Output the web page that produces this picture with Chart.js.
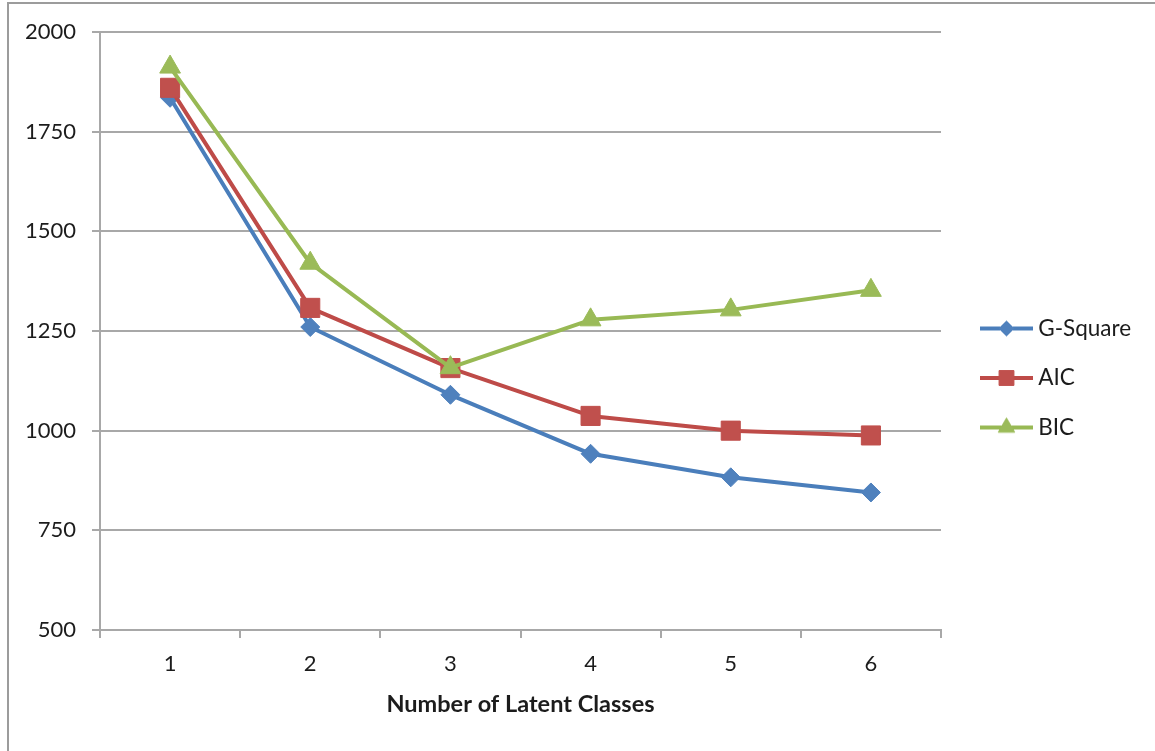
<!DOCTYPE html>
<html>
<head>
<meta charset="utf-8">
<script src="https://cdn.jsdelivr.net/npm/chart.js@4/dist/chart.umd.min.js"></script>
<style>
  html, body { margin: 0; padding: 0; background: #fff; }
  #wrap { position: relative; width: 1155px; height: 751px; overflow: hidden; }
  #chart { position: absolute; left: 0; top: 0; }
  #frame {
    position: absolute; left: 7px; top: 2px; right: -4px; bottom: -4px;
    border-top: 2px solid #9c9c9c; border-left: 2px solid #9c9c9c;
    pointer-events: none;
  }
</style>
</head>
<body>
<div id="wrap">
  <canvas id="chart" width="1155" height="751"></canvas>
  <div id="frame"></div>
</div>
<script>
// Number of latent classes in each fitted model
const classes = ['1', '2', '3', '4', '5', '6'];

// Fit statistics per model
const gSquare = [1835, 1260, 1090, 942, 883, 845];
const aic     = [1860, 1308, 1157, 1037, 1000, 988];
const bic     = [1912, 1420, 1158, 1278, 1303, 1352];

// Value axis range
const yMin = 500;
const yMax = 2000;
const yStep = 250;

const FONT = 'Lato, "Open Sans", sans-serif';
const TEXT = '#1c1c1c';
const GRID = '#a8a8a8';

const series = [
  { label: 'G-Square', data: gSquare, line: '#4a7ebb', fill: '#4f81bd', style: 'rectRot', r: 9.5,  lr: 7.5, order: 3 },
  { label: 'AIC',      data: aic,     line: '#be4b48', fill: '#c0504d', style: 'rect',    r: 13.5, lr: 10.5, order: 2 },
  { label: 'BIC',      data: bic,     line: '#98b954', fill: '#9bbb59', style: 'triangle',r: 12,   lr: 9.5, order: 1 }
];

// Legend glyph: a short line segment with the series marker in its middle
const GLYPH_W = 71, GLYPH_H = 26;
function legendGlyph(s) {
  const c = document.createElement('canvas');
  c.width = GLYPH_W; c.height = GLYPH_H;
  const g = c.getContext('2d');
  const cy = GLYPH_H / 2;
  g.strokeStyle = s.line;
  g.lineWidth = 4;
  g.beginPath();
  g.moveTo(18, cy);
  g.lineTo(GLYPH_W, cy);
  g.stroke();
  g.fillStyle = s.fill;
  g.strokeStyle = s.fill;
  g.lineWidth = 1;
  Chart.helpers.drawPoint(g, { pointStyle: s.style, radius: s.lr, borderWidth: 1, rotation: 0 }, 44.5, cy);
  return c;
}

const LEGEND_FONT_SIZE = 22.5;
const LEGEND_PAD = 27;
const LEGEND_BOX = 59;

// reserve the right margin so the plot ends where the legend begins
const measure = document.createElement('canvas').getContext('2d');
measure.font = LEGEND_FONT_SIZE + 'px ' + FONT;
const widest = Math.max(...series.map(s => measure.measureText(s.label).width));
const legendWidth = LEGEND_PAD + LEGEND_BOX + LEGEND_FONT_SIZE / 2 + widest + 10;
const plotRight = 941;
const rightPad = Math.max(0, 1155 - plotRight - legendWidth);

const glyphs = series.map(legendGlyph);

new Chart(document.getElementById('chart'), {
  type: 'line',
  data: {
    labels: classes,
    datasets: series.map(s => ({
      label: s.label,
      data: s.data,
      order: s.order,
      borderColor: s.line,
      backgroundColor: s.fill,
      borderWidth: 4,
      tension: 0,
      fill: false,
      borderJoinStyle: 'round',
      pointStyle: s.style,
      pointRadius: s.r,
      pointHoverRadius: s.r,
      pointBackgroundColor: s.fill,
      pointBorderColor: s.fill,
      pointBorderWidth: 1
    }))
  },
  options: {
    responsive: false,
    animation: false,
    devicePixelRatio: 1,
    layout: { padding: { top: 32, right: rightPad, bottom: 27, left: 0 } },
    plugins: {
      tooltip: { enabled: false },
      legend: {
        position: 'right',
        align: 'center',
        labels: {
          usePointStyle: true,
          pointStyleWidth: LEGEND_BOX,
          boxHeight: LEGEND_FONT_SIZE,
          padding: LEGEND_PAD,
          color: TEXT,
          font: { family: FONT, size: LEGEND_FONT_SIZE },
          sort: (a, b) => a.datasetIndex - b.datasetIndex,
          generateLabels: (chart) =>
            Chart.defaults.plugins.legend.labels.generateLabels(chart).map(item => {
              item.pointStyle = glyphs[item.datasetIndex];
              return item;
            })
        }
      }
    },
    scales: {
      x: {
        type: 'category',
        offset: true,
        afterFit: (scale) => { scale.height = 94; },
        grid: {
          offset: true,
          drawOnChartArea: false,
          drawTicks: true,
          tickLength: 8,
          color: GRID,
          lineWidth: 2
        },
        border: { display: true, color: GRID, width: 2 },
        ticks: {
          color: TEXT,
          padding: 13,
          font: { family: FONT, size: 22 },
          maxRotation: 0
        },
        title: {
          display: true,
          text: 'Number of Latent Classes',
          color: TEXT,
          font: { family: FONT, size: 23.5, weight: 'bold' },
          padding: { top: 0, bottom: 5 }
        }
      },
      y: {
        min: yMin,
        max: yMax,
        afterFit: (scale) => { scale.width = 100; },
        grid: {
          color: GRID,
          lineWidth: 2,
          drawTicks: true,
          tickLength: 8
        },
        border: { display: true, color: GRID, width: 2 },
        ticks: {
          stepSize: yStep,
          color: TEXT,
          padding: 16,
          font: { family: FONT, size: 22 },
          callback: (value) => String(value)
        }
      }
    }
  }
});
</script>
</body>
</html>
